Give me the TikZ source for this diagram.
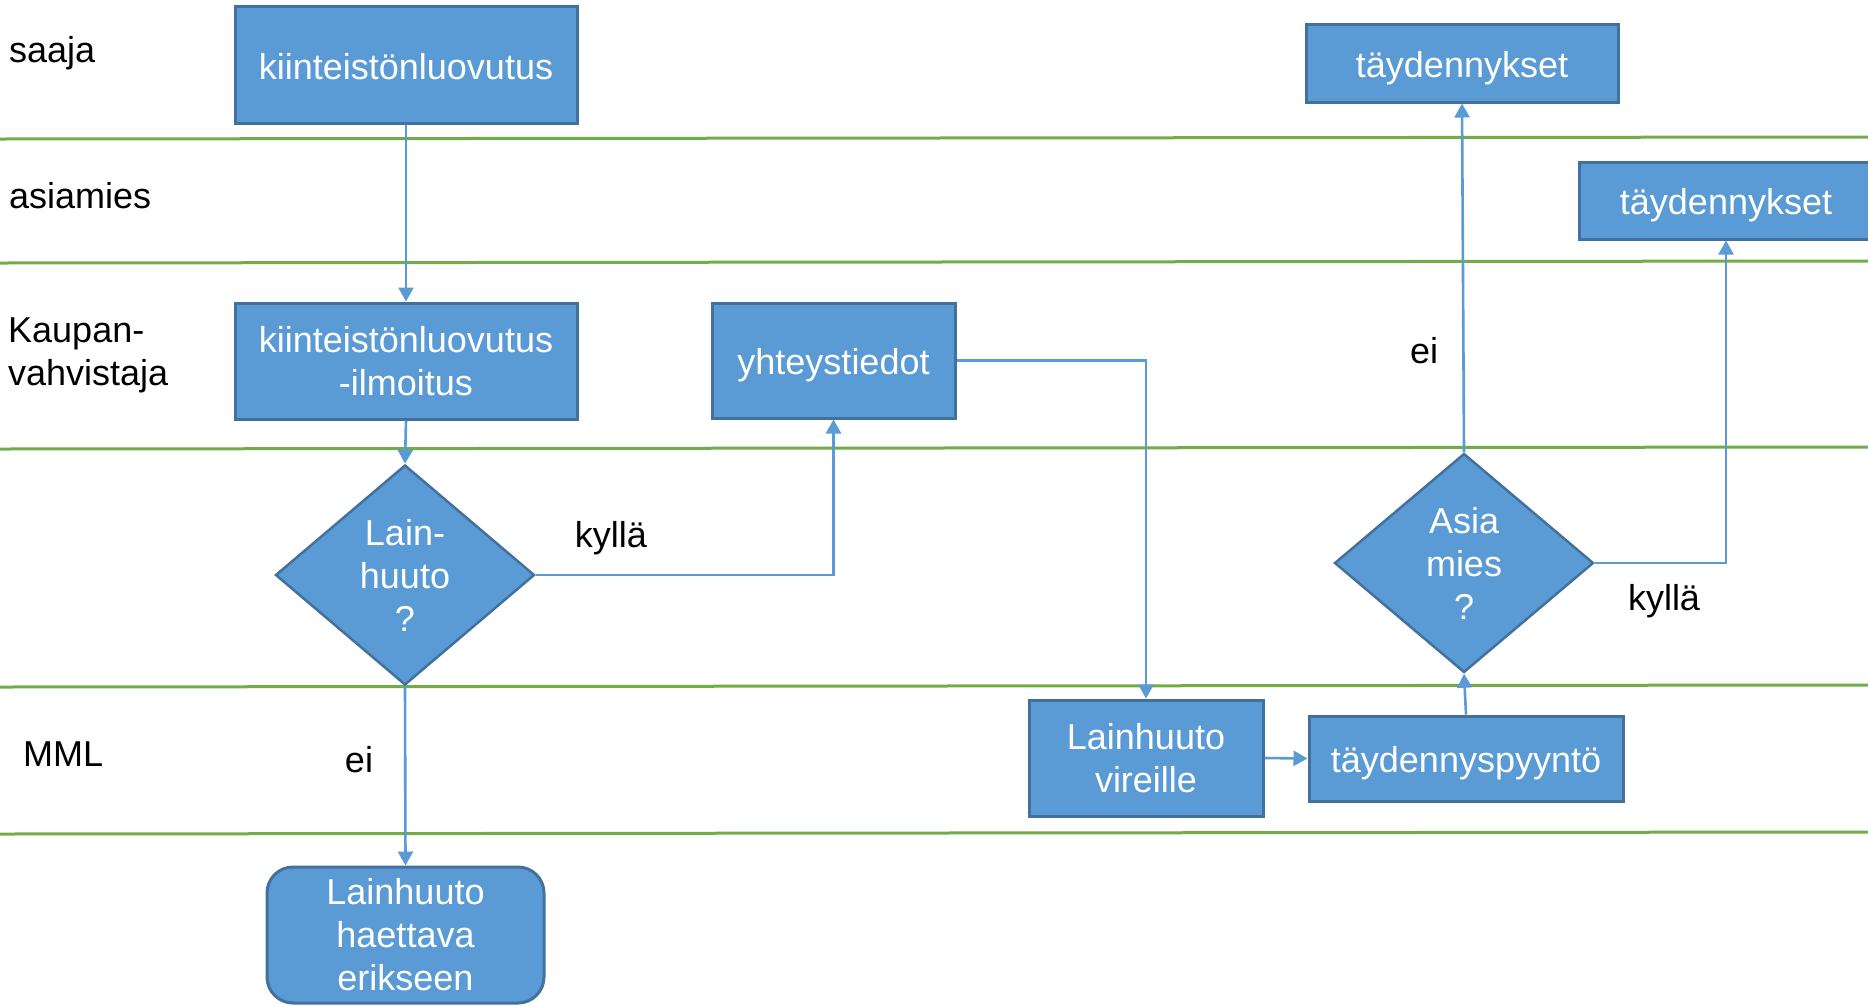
\documentclass[tikz,border=0pt]{standalone}
\usepackage{fontspec}
\setmainfont{Liberation Sans}
\usetikzlibrary{shapes.geometric,arrows.meta}
\definecolor{boxfill}{HTML}{5B9BD5}
\definecolor{boxline}{HTML}{41719C}
\definecolor{lanegreen}{HTML}{70AD47}
\begin{document}
\begin{tikzpicture}[x=1pt,y=-1pt,
  font=\fontsize{36}{43}\selectfont,
  procbox/.style={draw=boxline, line width=3pt, fill=boxfill, text=white, align=center, inner sep=0pt},
  onebox/.style={procbox, text height=28pt, text depth=0pt},
  decbox/.style={diamond, draw=boxline, line width=2.5pt, fill=boxfill, text=white, align=center, inner sep=0pt},
  lane/.style={draw=lanegreen, line width=3pt},
  flow/.style={draw=boxfill, line width=2.6pt, -{Triangle[width=15pt,length=14pt]}},
  lbl/.style={text=black, inner sep=0pt, anchor=base west},
  elbl/.style={text=black, inner sep=0pt, anchor=base}
]
\useasboundingbox (0,0) rectangle (1868,1005);
\fill[white] (0,0) rectangle (1868,1005);

% swimlane separators
\draw[lane] (0,139) -- (1868,137);
\draw[lane] (0,263) -- (1868,261);
\draw[lane] (0,449) -- (1868,447);
\draw[lane] (0,687) -- (1868,685);
\draw[lane] (0,834) -- (1868,832);

% lane labels
\node[lbl] (lsaaja) at (9,62) {saaja};
\node[lbl] (lasiamies) at (9,208) {asiamies};
\node[lbl] (lkaupan) at (8,342) {Kaupan-};
\node[lbl] (lvahv) at (8,385) {vahvistaja};
\node[lbl] (lmml) at (23,766) {MML};

% nodes
\node[onebox, minimum width=342pt, minimum height=117pt] (kl) at (406,65) {kiinteistönluovutus};
\node[procbox, minimum width=342pt, minimum height=116pt] (kli) at (406,361) {kiinteistönluovutus\\-ilmoitus};
\node[decbox, minimum width=259pt, minimum height=220pt] (d1) at (405,575) {Lain-\\huuto\\?};
\node[onebox, minimum width=243pt, minimum height=115pt] (yt) at (833.5,360.5) {yhteystiedot};
\node[procbox, rounded corners=26pt, minimum width=277pt, minimum height=136pt] (rb) at (405.5,935) {\raisebox{-3pt}{Lainhuuto}\\\raisebox{-3pt}{haettava}\\\raisebox{-3pt}{erikseen}};
\node[procbox, minimum width=234pt, minimum height=116pt] (lv) at (1146,758) {\raisebox{-2pt}{Lainhuuto}\\\raisebox{-2pt}{vireille}};
\node[onebox, minimum width=314pt, minimum height=85pt] (tp) at (1466,758.5) {täydennyspyyntö};
\node[decbox, minimum width=259pt, minimum height=219pt] (d2) at (1464,563) {Asia\\mies\\?};
\node[onebox, minimum width=312pt, minimum height=78pt] (t1) at (1462,63) {täydennykset};
\node[onebox, minimum width=294pt, minimum height=77pt] (t2) at (1726,200.5) {täydennykset};

% connectors
\draw[flow] (kl.south) -- (kli.north);
\draw[flow] (kli.south) -- (d1.north);
\draw[flow] (d1.east) -| (yt.south);
\draw[flow] (d1.south) -- (rb.north);
\draw[flow] (yt.east) -| (lv.north);
\draw[flow] (lv.east) -- (tp.west);
\draw[flow] (tp.north) -- (d2.south);
\draw[flow] (d2.north) -- (t1.south);
\draw[flow] (d2.east) -| (t2.south);

% connector labels
\node[elbl] (kylla1) at (611,547) {kyllä};
\node[elbl] (ei1) at (359,772) {ei};
\node[elbl] (ei2) at (1424,363) {ei};
\node[elbl] (kylla2) at (1664,610) {kyllä};
\end{tikzpicture}
\end{document}
